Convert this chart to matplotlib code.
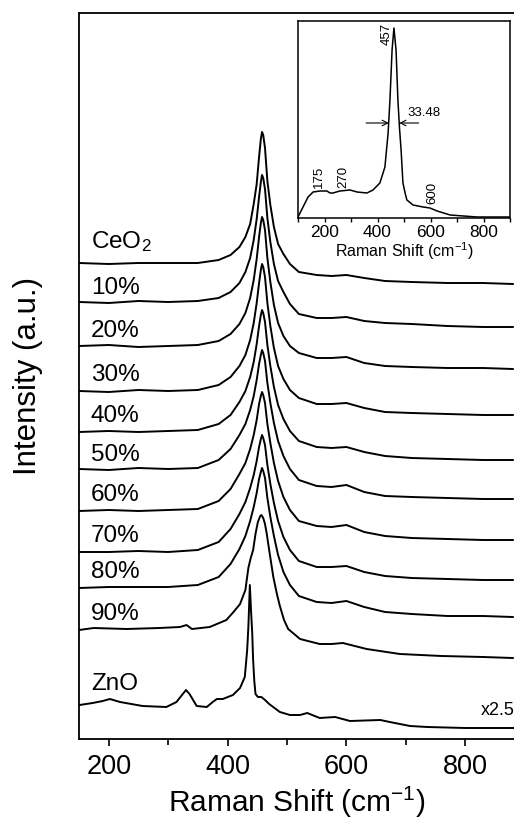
import matplotlib.pyplot as plt
from matplotlib.ticker import MultipleLocator

plt.rcParams['font.family'] = ['Liberation Sans', 'DejaVu Sans']
plt.rcParams['mathtext.fontset'] = 'custom'
plt.rcParams['mathtext.rm'] = 'Liberation Sans'
plt.rcParams['mathtext.it'] = 'Liberation Sans:italic'
plt.rcParams['mathtext.bf'] = 'Liberation Sans:bold'

# Raman shift grid shared by the CeO2-rich spectra (cm-1)
shift = [150, 200, 250, 300, 350, 385, 405, 420, 430, 438, 444, 449, 453, 456, 458, 460,
         463, 467, 472, 478, 485, 494, 505, 520, 550, 575, 600, 630, 665, 710, 770, 830, 880]

ceo2 = [476, 475, 476, 476, 476, 479, 484, 492, 502, 515, 535, 555, 582, 600, 607, 604,
        591, 558, 534, 512, 495, 485, 475, 467, 464, 463, 464, 461, 458, 457, 456, 456, 455]
zn10 = [437, 436, 438, 437, 438, 441, 447, 456, 467, 481, 499, 520, 542, 557, 564, 561,
        550, 521, 497, 475, 458, 447, 435, 425, 421, 421, 422, 418, 416, 415, 413, 412, 412]
zn20 = [393, 394, 392, 393, 394, 398, 405, 415, 426, 441, 459, 480, 502, 516, 522, 519,
        509, 481, 457, 434, 416, 403, 393, 386, 381, 381, 382, 376, 373, 372, 371, 371, 370]
zn30 = [348, 347, 349, 348, 349, 354, 362, 373, 384, 399, 416, 436, 456, 469, 475, 472,
        462, 436, 413, 391, 373, 360, 349, 341, 335, 335, 336, 331, 327, 326, 325, 324, 324]
zn40 = [307, 308, 307, 308, 309, 315, 324, 337, 348, 362, 377, 395, 413, 424, 429, 426,
        417, 394, 373, 352, 334, 320, 308, 298, 292, 291, 292, 287, 283, 281, 280, 279, 279]
zn50 = [270, 269, 271, 270, 271, 279, 290, 304, 315, 329, 343, 359, 375, 384, 389, 386,
        378, 356, 336, 316, 298, 283, 270, 259, 253, 252, 254, 247, 243, 242, 241, 240, 240]
zn60 = [228, 229, 228, 229, 230, 238, 250, 265, 276, 290, 304, 319, 335, 343, 347, 344,
        336, 315, 296, 276, 258, 242, 229, 218, 213, 212, 214, 207, 203, 201, 200, 199, 199]
zn70 = [187, 187, 188, 187, 189, 197, 210, 225, 237, 251, 264, 278, 292, 300, 304, 301,
        294, 274, 255, 236, 218, 202, 189, 178, 172, 172, 173, 167, 163, 161, 160, 159, 159]
zn80 = [151, 152, 152, 152, 154, 162, 175, 190, 203, 218, 232, 246, 260, 267, 271, 268,
        261, 241, 222, 203, 184, 167, 154, 143, 137, 136, 138, 132, 127, 125, 123, 123, 122]

# 90% sample shows the ZnO shoulder, so it gets its own grid
shift90 = [150, 175, 230, 285, 320, 331, 340, 370, 398, 410, 421, 430, 435, 439, 443, 447,
           451, 455, 457, 460, 463, 466, 470, 477, 483, 488, 495, 502, 522, 555, 575, 594,
           634, 690, 760, 830, 880]
zn90 = [109, 111, 110, 111, 112, 114, 110, 112, 119, 127, 135, 149, 171, 181, 189, 205,
        217, 223, 224, 221, 215, 205, 189, 162, 145, 133, 119, 110, 100, 95, 95, 96,
        90, 85, 83, 82, 81]

# pure ZnO (x2.5)
shift_zno = [151, 173, 190, 202, 219, 257, 297, 314, 322, 330, 336, 340, 348, 365, 375, 382,
             392, 409, 421, 429, 433, 435, 437.5, 439.5, 441.5, 443, 445, 447, 451, 457, 463,
             470, 488, 505, 522, 534, 555, 581, 606, 657, 673, 707, 736, 800, 881]
zno = [34, 36, 38, 40, 37, 33, 32, 37, 43, 49, 45, 41, 33, 32, 37, 40,
       40, 44, 51, 62, 89, 112, 154, 128, 106, 79, 58, 45, 42, 42, 39,
       35, 27, 24, 24, 26, 21, 22, 18, 19, 17, 13, 12, 11, 11]

labels = ['CeO$_2$', '10%', '20%', '30%', '40%', '50%', '60%', '70%', '80%', '90%', 'ZnO']
label_pad = [15, 8, 9, 10, 10, 8, 10, 10, 10, 10, 15]

# inset: pure CeO2
inset_shift = [100, 119, 138, 157, 183, 209, 221, 232, 258, 296, 323, 360, 383, 409, 428, 440,
               447, 455, 462, 470, 477, 483, 489, 496, 505, 511, 534, 572, 598, 625, 674,
               775, 900]
inset_int = [1, 11, 21, 26, 27, 27, 25, 25, 27, 28, 26, 25, 28, 35, 51, 85,
             118, 168, 190, 168, 118, 90, 68, 35, 24, 18, 13, 11, 10, 7, 3,
             1, 1]
peak_marks = [(179, 30, '175'), (270, 30, '270'), (434, 173, '457'), (606, 14, '600')]

fig = plt.figure(figsize=(5.14, 8.25), dpi=100)
ax = fig.add_axes([79 / 514, 86 / 825, 435 / 514, 726 / 825])

series = [(shift, ceo2), (shift, zn10), (shift, zn20), (shift, zn30), (shift, zn40),
          (shift, zn50), (shift, zn60), (shift, zn70), (shift, zn80), (shift90, zn90),
          (shift_zno, zno)]
for (x, y), lab, pad in zip(series, labels, label_pad):
    ax.plot(x, y, color='black', lw=1.4)
    ax.text(170, y[0] + pad, lab, fontsize=17.5, va='baseline', ha='left')

ax.text(826, 24, 'x2.5', fontsize=13, va='baseline', ha='left')

ax.set_xlim(150, 882)
ax.set_ylim(0, 726)
ax.xaxis.set_major_locator(MultipleLocator(200))
ax.xaxis.set_minor_locator(MultipleLocator(100))
ax.set_yticks([])
ax.tick_params(axis='x', which='major', direction='out', length=5, width=1.2, labelsize=19.5, pad=6)
ax.tick_params(axis='x', which='minor', direction='out', length=4, width=1.2)
ax.spines['right'].set_visible(False)
for s in ['left', 'top', 'bottom']:
    ax.spines[s].set_linewidth(1.3)
ax.set_xlabel('Raman Shift (cm$^{-1}$)', fontsize=21.5, labelpad=3)
ax.set_ylabel('Intensity (a.u.)', fontsize=22.5)
ax.yaxis.set_label_coords(-0.082, 0.5)

# inset
axi = fig.add_axes([298 / 514, 607 / 825, 212 / 514, 197 / 825])
axi.plot(inset_shift, inset_int, color='black', lw=1.1)
axi.set_xlim(100, 900)
axi.set_ylim(0, 197)
axi.xaxis.set_major_locator(MultipleLocator(200))
axi.xaxis.set_minor_locator(MultipleLocator(100))
axi.set_yticks([])
axi.tick_params(axis='x', which='major', direction='out', length=3, width=1, labelsize=12.5, pad=2)
axi.tick_params(axis='x', which='minor', direction='out', length=3, width=1)
axi.set_xlabel('Raman Shift (cm$^{-1}$)', fontsize=11.5, labelpad=0)
for s in axi.spines.values():
    s.set_linewidth(1.1)

for x, y, t in peak_marks:
    axi.text(x, y, t, rotation=90, fontsize=9.5, ha='center', va='bottom')

axi.annotate('', xy=(443, 95), xytext=(357, 95),
             arrowprops=dict(arrowstyle='->', lw=0.8, color='black', shrinkA=0, shrinkB=0))
axi.annotate('', xy=(482, 95), xytext=(555, 95),
             arrowprops=dict(arrowstyle='->', lw=0.8, color='black', shrinkA=0, shrinkB=0))
axi.text(512, 99, '33.48', fontsize=9.5, ha='left', va='bottom')

fig.savefig('out.png', dpi=100)
